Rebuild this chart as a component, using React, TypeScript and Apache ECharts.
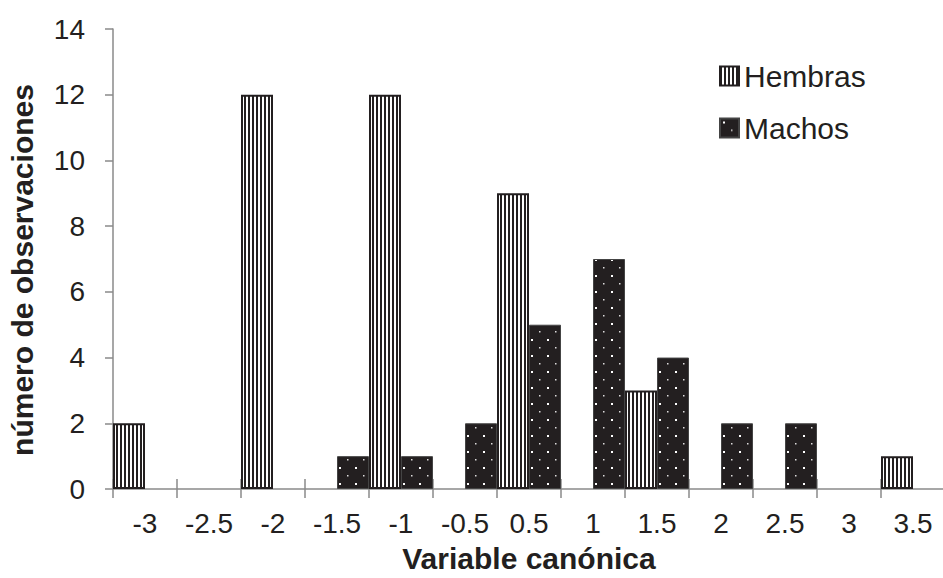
import { useEffect, useRef } from 'react';
import * as echarts from 'echarts';

// Class midpoints of the canonical variable
const categories = ['-3', '-2.5', '-2', '-1.5', '-1', '-0.5', '0.5', '1', '1.5', '2', '2.5', '3', '3.5'];
// Number of observations per class
const hembras = [2, 0, 12, 0, 12, 0, 9, 0, 3, 0, 0, 0, 1];
const machos = [0, 0, 0, 1, 1, 2, 5, 7, 4, 2, 2, 0, 0];
// Value axis range
const yMin = 0;
const yMax = 14;
const yStep = 2;

const INK = '#231f20';
const AXIS = '#8a8a8a';
const FONT = '"Liberation Sans", Arial, Helvetica, sans-serif';

function stripePattern() {
  const c = document.createElement('canvas');
  c.width = 4;
  c.height = 4;
  const g = c.getContext('2d')!;
  g.fillStyle = '#ffffff';
  g.fillRect(0, 0, 4, 4);
  g.fillStyle = INK;
  g.fillRect(0, 0, 2, 4);
  return c;
}

function dotPattern() {
  const c = document.createElement('canvas');
  c.width = 16;
  c.height = 16;
  const g = c.getContext('2d')!;
  g.fillStyle = INK;
  g.fillRect(0, 0, 16, 16);
  g.fillStyle = '#ffffff';
  g.fillRect(3, 3, 2, 2);
  g.fillStyle = 'rgba(255,255,255,0.85)';
  g.fillRect(11, 11, 1.5, 1.5);
  return c;
}

const blankZero = (arr: number[]) => arr.map((v) => (v === 0 ? '-' : v));

export default function App() {
  const ref = useRef<HTMLDivElement>(null);

  useEffect(() => {
    if (!ref.current) return;
    const chart = echarts.init(ref.current, undefined, { renderer: 'svg' });
    const stripes = { image: stripePattern(), repeat: 'repeat' } as any;
    const dots = { image: dotPattern(), repeat: 'repeat' } as any;

    const legendText = { fontFamily: FONT, fontSize: 30, color: INK };

    chart.setOption({
      animation: false,
      backgroundColor: '#ffffff',
      grid: {
        left: 113,
        right: -2,
        top: 29,
        bottom: 89,
        containLabel: false,
        outerBoundsMode: 'none',
      },
      graphic: [
        {
          type: 'text',
          x: 22,
          y: 270,
          rotation: Math.PI / 2,
          style: {
            text: 'número de observaciones',
            fontFamily: FONT,
            fontSize: 30,
            fontWeight: 'bold',
            fill: INK,
            align: 'center',
            verticalAlign: 'middle',
          },
        },
      ],
      legend: [
        {
          data: ['Hembras'],
          left: 719,
          top: 61,
          padding: 0,
          itemWidth: 19,
          itemHeight: 19,
          icon: 'rect',
          textStyle: legendText,
        },
        {
          data: ['Machos'],
          left: 719,
          top: 113,
          padding: 0,
          itemWidth: 19,
          itemHeight: 19,
          icon: 'rect',
          textStyle: legendText,
        },
      ],
      xAxis: [
        {
          type: 'category',
          data: categories,
          boundaryGap: true,
          name: 'Variable canónica',
          nameLocation: 'middle',
          nameGap: 54,
          nameTextStyle: { fontFamily: FONT, fontSize: 30, fontWeight: 'bold', color: INK },
          axisLine: { show: true, lineStyle: { color: AXIS, width: 1.5 } },
          axisTick: { show: true, interval: 0, alignWithLabel: false, inside: false, length: 9, lineStyle: { color: AXIS, width: 1.5 } },
          axisLabel: { interval: 0, margin: 20, fontFamily: FONT, fontSize: 28, color: INK },
          splitLine: { show: false },
        },
        {
          type: 'category',
          data: categories,
          boundaryGap: true,
          position: 'bottom',
          axisLine: { show: false },
          axisTick: { show: true, interval: 0, alignWithLabel: false, inside: true, length: 10, lineStyle: { color: AXIS, width: 1.5 } },
          axisLabel: { show: false },
          splitLine: { show: false },
        },
      ],
      yAxis: {
        type: 'value',
        min: yMin,
        max: yMax,
        interval: yStep,
        axisLine: { show: true, lineStyle: { color: AXIS, width: 1.5 } },
        axisTick: { show: true, inside: false, length: 8, lineStyle: { color: AXIS, width: 1.5 } },
        axisLabel: { margin: 28, fontFamily: FONT, fontSize: 28, color: INK },
        splitLine: { show: false },
      },
      series: [
        {
          name: 'Hembras',
          type: 'bar',
          data: blankZero(hembras),
          barGap: '0%',
          barCategoryGap: '0%',
          itemStyle: { color: stripes, borderColor: INK, borderWidth: 2 },
        },
        {
          name: 'Machos',
          type: 'bar',
          data: blankZero(machos),
          barGap: '0%',
          barCategoryGap: '0%',
          itemStyle: { color: dots, borderColor: '#444444', borderWidth: 1 },
        },
      ],
    });

    return () => chart.dispose();
  }, []);

  return (
    <div
      ref={ref}
      style={{ position: 'absolute', left: 0, top: 0, width: 943, height: 578, background: '#ffffff' }}
    />
  );
}
